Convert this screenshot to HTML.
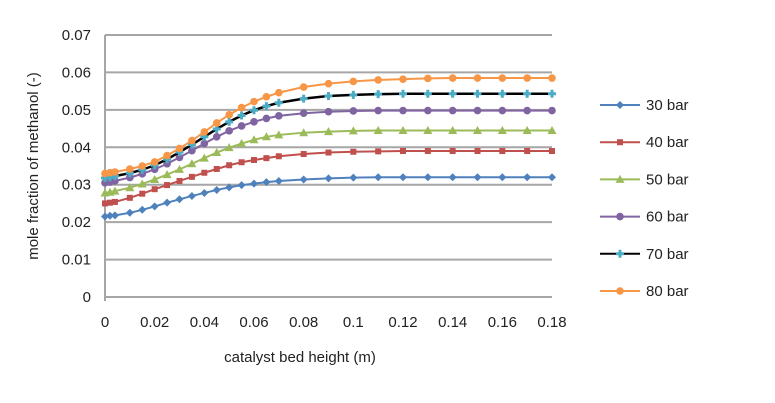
<!DOCTYPE html>
<html><head><meta charset="utf-8"><style>
body{margin:0;background:#fff;}
svg{display:block;font-family:"Liberation Sans",sans-serif;}
</style></head><body>
<svg id="chart" width="775" height="403" viewBox="0 0 775 403">
<g id="grid"></g><g id="axes"></g><g id="series"></g><g id="legend"></g>
<text x="300" y="362" font-size="15" text-anchor="middle" fill="#222">catalyst bed height (m)</text>
<text transform="translate(38,166) rotate(-90)" font-size="15" text-anchor="middle" fill="#222">mole fraction of methanol (-)</text>
</svg>
<script>
const xVals=[0,0.002,0.004,0.01,0.015,0.02,0.025,0.03,0.035,0.04,0.045,0.05,0.055,0.06,0.065,0.07,0.08,0.09,0.1,0.11,0.12,0.13,0.14,0.15,0.16,0.17,0.18];
const s30=[0.0215,0.0217,0.0218,0.0225,0.0233,0.0242,0.0252,0.0261,0.027,0.0278,0.0286,0.0293,0.0299,0.0303,0.0307,0.031,0.0314,0.0317,0.0319,0.032,0.032,0.032,0.032,0.032,0.032,0.032,0.032];
const s40=[0.025,0.0252,0.0254,0.0265,0.0276,0.0288,0.0299,0.031,0.0321,0.0332,0.0342,0.0352,0.036,0.0366,0.0371,0.0376,0.0382,0.0386,0.0388,0.0389,0.039,0.039,0.039,0.039,0.039,0.039,0.039];
const s50=[0.0278,0.028,0.0283,0.0292,0.0302,0.0314,0.0327,0.0341,0.0356,0.0371,0.0386,0.0399,0.041,0.042,0.0428,0.0433,0.0439,0.0442,0.0444,0.0445,0.0445,0.0445,0.0445,0.0445,0.0445,0.0445,0.0445];
const s60=[0.0305,0.0307,0.031,0.0319,0.0329,0.0341,0.0356,0.0373,0.0391,0.041,0.0428,0.0444,0.0457,0.0468,0.0477,0.0484,0.0491,0.0495,0.0497,0.0498,0.0498,0.0498,0.0498,0.0498,0.0498,0.0498,0.0498];
const s70=[0.0318,0.032,0.0323,0.0331,0.034,0.0352,0.0368,0.0387,0.0407,0.0428,0.0449,0.0468,0.0485,0.0499,0.051,0.0519,0.053,0.0537,0.054,0.0542,0.0543,0.0543,0.0543,0.0543,0.0543,0.0543,0.0543];
const s80=[0.033,0.0332,0.0334,0.0342,0.035,0.0361,0.0378,0.0397,0.0418,0.0441,0.0465,0.0487,0.0506,0.0522,0.0535,0.0546,0.0561,0.057,0.0576,0.058,0.0582,0.0584,0.0585,0.0585,0.0585,0.0585,0.0585];
const seriesNames=["30 bar","40 bar","50 bar","60 bar","70 bar","80 bar"];
const yTicks=["0","0.01","0.02","0.03","0.04","0.05","0.06","0.07"];
const xTicks=["0","0.02","0.04","0.06","0.08","0.1","0.12","0.14","0.16","0.18"];
const NS="http://www.w3.org/2000/svg";
const X0=105,X1=552,Y0=297,Y1=35;
const sx=v=>X0+(v/0.18)*(X1-X0);
const sy=v=>Y0-(v/0.07)*(Y0-Y1);
function mk(t,a,p){const e=document.createElementNS(NS,t);for(const k in a)e.setAttribute(k,a[k]);p.appendChild(e);return e;}
const grid=document.getElementById('grid'),axes=document.getElementById('axes');
yTicks.forEach((t,i)=>{const v=i*0.01;
 const l=mk('line',{x1:X0,x2:X1,y1:sy(v),y2:sy(v),stroke:'#a6a6a6','stroke-width':2},grid);
 
 
 const tx=mk('text',{x:91,y:sy(v)+5,'font-size':15,'text-anchor':'end',fill:'#222'},axes);tx.textContent=t;
 
 
});
const ax=mk('line',{x1:X0,x2:X0,y1:Y1,y2:Y0+4,stroke:'#a6a6a6','stroke-width':2},axes);


xTicks.forEach((t,i)=>{const v=i*0.02;
 const tx=mk('text',{x:sx(v),y:327,'font-size':15,'text-anchor':'middle',fill:'#222'},axes);tx.textContent=t;
 
 
});
const data=[s30,s40,s50,s60,s70,s80];
const lineCols=['#4F81BD','#C0504D','#9BBB59','#8064A2','#000000','#F79646'];
const markCols=['#4F81BD','#C0504D','#9BBB59','#8064A2','#4BACC6','#F79646'];
const shapes=['diamond','square','triangle','circle','star','circle'];
function marker(g,shape,x,y,c,s){
 let e;
 if(shape==='square')e=mk('rect',{x:x-3,y:y-3,width:6,height:6,fill:c},g);
 else if(shape==='circle')e=mk('circle',{cx:x,cy:y,r:3.8,fill:c},g);
 else if(shape==='triangle')e=mk('polygon',{points:`${x},${y-4.5} ${x+4.5},${y+3.5} ${x-4.5},${y+3.5}`,fill:c},g);
 else if(shape==='diamond')e=mk('polygon',{points:`${x},${y-4} ${x+4},${y} ${x},${y+4} ${x-4},${y}`,fill:c},g);
 else e=mk('path',{d:`M${x-4} ${y}H${x+4}M${x} ${y-4}V${y+4}`,stroke:c,'stroke-width':3},g);
 return e;
}
const sg=document.getElementById('series'),lg=document.getElementById('legend');
data.forEach((arr,si)=>{
 const g=mk('g',{},sg);
 
 
 const pts=arr.map((v,i)=>sx(xVals[i])+','+sy(v)).join(' ');
 mk('polyline',{points:pts,fill:'none',stroke:lineCols[si],'stroke-width':si===4?2.5:2},g);
 arr.forEach((v,i)=>{const m=marker(g,shapes[si],sx(xVals[i]),sy(v),markCols[si]);
  
  });
 const ly=105+si*37.2;
 const lgi=mk('g',{},lg);
 
 
 mk('line',{x1:600,x2:640,y1:ly,y2:ly,stroke:lineCols[si],'stroke-width':2},lgi);
 marker(lgi,shapes[si],620,ly,markCols[si]);
 const t=mk('text',{x:646,y:ly+5,'font-size':15,fill:'#222'},lgi);t.textContent=seriesNames[si];
});
</script>
</body></html>
